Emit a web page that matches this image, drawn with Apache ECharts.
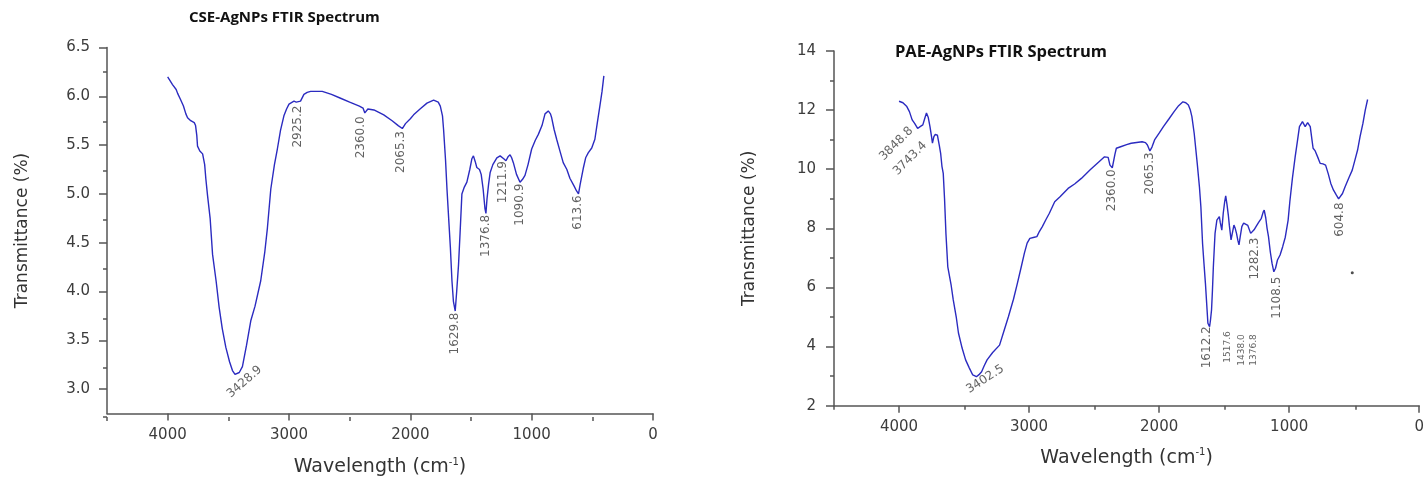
<!DOCTYPE html>
<html>
<head>
<meta charset="utf-8">
<script src="https://cdn.jsdelivr.net/npm/echarts@6/dist/echarts.min.js"></script>
<style>
html,body{margin:0;padding:0;background:#fff;}
#chart{width:1427px;height:482px;}
</style>
</head>
<body>
<div id="chart"></div>
<script>
// ---------- DATA ----------
// CSE-AgNPs spectrum (wavenumber cm-1, transmittance %)
const cseWave = [4000,3960,3930,3918,3895,3870,3850,3836,3810,3781,3770,3760,3754,3735,3712,3695,3685,3671,3650,3630,3600,3576,3550,3521,3490,3466,3445,3429,3410,3384,3350,3315,3280,3233,3200,3178,3150,3120,3096,3070,3042,3020,3000,2959,2940,2925,2905,2877,2850,2822,2726,2650,2575,2500,2420,2390,2375,2360,2350,2335,2300,2219,2150,2100,2066,2040,2000,1973,1920,1863,1808,1770,1753,1735,1726,1710,1698,1685,1670,1657,1645,1630,1618,1603,1590,1575,1555,1534,1510,1493,1480,1465,1452,1430,1416,1400,1385,1377,1368,1355,1342,1320,1287,1260,1246,1230,1212,1195,1178,1165,1151,1125,1096,1075,1055,1030,1000,970,945,915,890,863,845,835,815,794,765,740,710,685,650,630,614,600,575,555,534,505,479,460,438,420,405];
const cseTrans = [6.20,6.12,6.07,6.03,5.97,5.90,5.82,5.78,5.75,5.73,5.70,5.60,5.49,5.44,5.41,5.30,5.15,4.98,4.75,4.38,4.10,3.84,3.62,3.43,3.28,3.19,3.15,3.14,3.17,3.23,3.45,3.70,3.85,4.11,4.40,4.65,5.05,5.30,5.46,5.65,5.80,5.87,5.92,5.95,5.94,5.92,5.95,6.02,6.04,6.05,6.05,6.02,5.98,5.94,5.90,5.88,5.83,5.82,5.87,5.88,5.86,5.81,5.75,5.70,5.67,5.72,5.77,5.81,5.87,5.93,5.96,5.94,5.90,5.80,5.66,5.35,5.05,4.77,4.45,4.11,3.90,3.80,4.00,4.27,4.60,5.00,5.07,5.12,5.25,5.36,5.39,5.33,5.27,5.25,5.20,5.05,4.85,4.80,4.95,5.10,5.22,5.30,5.37,5.39,5.38,5.36,5.34,5.38,5.40,5.37,5.32,5.20,5.12,5.15,5.19,5.30,5.46,5.55,5.61,5.70,5.82,5.85,5.82,5.78,5.66,5.56,5.43,5.32,5.25,5.16,5.08,5.03,5.00,5.10,5.26,5.37,5.42,5.47,5.56,5.72,5.90,6.05,6.21];
const csePeakWave = [3428.9,2925.2,2360.0,2065.3,1629.8,1376.8,1211.9,1090.9,613.6];
const csePeakTrans = [3.14,5.92,5.82,5.67,3.80,4.80,5.34,5.12,5.00];

// PAE-AgNPs spectrum
const paeWave = [4000,3970,3940,3920,3899,3880,3857,3835,3817,3800,3789,3775,3762,3750,3743,3732,3721,3705,3699,3690,3680,3670,3660,3650,3639,3625,3600,3583,3560,3543,3515,3488,3460,3433,3405,3385,3365,3345,3323,3280,3227,3195,3159,3120,3090,3060,3036,3015,2994,2960,2940,2920,2898,2870,2844,2803,2762,2700,2650,2598,2530,2460,2420,2407,2392,2378,2360,2351,2340,2329,2296,2250,2215,2131,2105,2090,2071,2055,2035,2000,1967,1925,1885,1850,1817,1795,1775,1760,1748,1730,1707,1690,1679,1666,1655,1644,1635,1625,1612,1605,1597,1590,1583,1575,1570,1556,1545,1537,1530,1518,1507,1496,1488,1478,1468,1460,1447,1438,1425,1415,1405,1395,1386,1377,1364,1350,1337,1318,1296,1282,1270,1255,1235,1214,1200,1192,1180,1170,1159,1145,1132,1118,1105,1090,1070,1050,1030,1008,995,975,954,935,921,898,887,877,868,858,848,838,825,816,800,789,775,762,740,720,700,680,660,638,620,611,590,570,540,515,495,474,455,433,415,397];
const paeTrans = [12.30,12.25,12.12,11.95,11.67,11.55,11.38,11.45,11.50,11.75,11.90,11.75,11.44,11.10,10.88,11.10,11.18,11.15,11.10,10.80,10.54,10.10,9.86,9.00,7.80,6.70,6.10,5.58,5.00,4.46,3.95,3.55,3.28,3.04,2.98,3.05,3.15,3.35,3.55,3.80,4.05,4.50,5.01,5.60,6.14,6.70,7.16,7.50,7.66,7.70,7.72,7.90,8.06,8.30,8.51,8.90,9.07,9.35,9.50,9.69,9.98,10.26,10.42,10.48,10.40,10.14,10.05,10.09,10.50,10.71,10.76,10.83,10.88,10.93,10.90,10.82,10.62,10.75,10.99,11.22,11.44,11.70,11.95,12.15,12.28,12.25,12.17,12.00,11.78,11.20,10.20,9.40,8.73,7.49,6.80,6.14,5.50,4.79,4.67,4.90,5.24,5.90,6.70,7.40,7.83,8.28,8.30,8.40,8.20,7.94,8.51,8.90,9.10,8.80,8.45,8.10,7.61,7.62,8.11,8.00,7.83,7.60,7.44,7.70,8.06,8.18,8.23,8.10,7.83,7.84,7.95,8.06,8.20,8.34,8.55,8.62,8.35,8.00,7.72,7.20,6.82,6.53,6.65,6.93,7.10,7.38,7.70,8.28,8.90,9.70,10.42,11.00,11.44,11.61,11.55,11.44,11.50,11.58,11.55,11.44,11.00,10.71,10.62,10.59,10.35,10.20,10.18,10.14,9.85,9.52,9.30,9.13,9.00,8.96,9.18,9.41,9.72,9.97,10.30,10.65,11.10,11.55,12.00,12.36];
const paePeakWave = [3848.8,3743.4,3402.5,2360.0,2065.3,1612.2,1517.6,1438.0,1376.8,1282.3,1108.5,604.8];
const paePeakTrans = [11.38,10.88,2.98,10.05,10.62,4.67,7.94,7.62,7.44,7.84,6.55,8.96];
const paeDot = [[515, 6.5]];

// Axis ticks
const waveTicks = [0,1000,2000,3000,4000];
const waveMinorTicks = [500,1500,2500,3500,4500];
const cseTransTicks = [3.0,3.5,4.0,4.5,5.0,5.5,6.0,6.5];
const cseTransMinorTicks = [2.75,3.25,3.75,4.25,4.75,5.25,5.75,6.25];
const paeTransTicks = [2,4,6,8,10,12,14];
const paeTransMinorTicks = [3,5,7,9,11,13];

const titles = ['CSE-AgNPs FTIR Spectrum','PAE-AgNPs FTIR Spectrum'];

// ---------- STYLE / LAYOUT ----------
const FONT = 'DejaVu Sans';
const axisColor = '#555';
const textColor = '#3c3c3c';
const lineColor = '#2b2bc0';

const gridRects = [
  {left: 107, top: 47.5, width: 546, height: 369.5},
  {left: 834, top: 51, width: 586.7, height: 354.7}
];

// label placement tweaks (pixel offsets relative to the peak point)
const cseLabelStyle = {
  '3428.9': {rotate: 41, align: 'center', pos: [8, 7]},
  '2360.0': {pos: [-5, 3]},
  '2065.3': {pos: [-1, 3]},
  '1211.9': {pos: [-3, 1]}
};
const paeLabelStyle = {
  '3848.8': {rotate: 45, align: 'right', pos: [-7, 1]},
  '3743.4': {rotate: 45, align: 'right', pos: [-7, 1]},
  '3402.5': {rotate: 33, align: 'center', pos: [9, 3]},
  '1612.2': {pos: [-2, 0]},
  '1517.6': {pos: [6, 5], size: 9, anchorFrom: 1612.2},
  '1438.0': {pos: [10, 8], size: 9, anchorFrom: 1612.2},
  '1376.8': {pos: [14, 8], size: 9, anchorFrom: 1612.2},
  '1282.3': {pos: [3, 5]},
  '1108.5': {pos: [2, 6]},
  '604.8': {pos: [0, 3]}
};

function zip(a, b) { return a.map((v, i) => [v, b[i]]); }

function peakData(waves, trans, styles) {
  return waves.map((w, i) => {
    const key = w.toFixed(1);
    const st = styles[key] || {};
    let t = trans[i];
    if (st.anchorFrom != null) t = trans[waves.indexOf(st.anchorFrom)];
    const rotate = st.rotate != null ? st.rotate : 90;
    return {
      value: [w, t],
      label: {
        show: true,
        formatter: key,
        rotate: rotate,
        align: st.align || 'right',
        verticalAlign: 'middle',
        position: st.pos || [0, 2],
        fontSize: st.size || 12,
        fontFamily: FONT,
        color: '#3a3a3a'
      }
    };
  });
}

function xMain(grid, nameGap) {
  return {
    gridIndex: grid, type: 'value', min: 0, max: 4500, inverse: true, position: 'bottom',
    name: '{n|Wavelength (cm}{s|-1}{n|)}', nameLocation: 'middle', nameGap: nameGap,
    nameTextStyle: {
      rich: {
        n: {fontFamily: FONT, fontSize: 19, color: '#333'},
        s: {fontFamily: FONT, fontSize: 10, color: '#333', padding: [0, 0, 10, 0]}
      }
    },
    axisLine: {show: true, onZero: false, lineStyle: {color: axisColor, width: 1.5}},
    axisTick: {show: true, customValues: waveTicks, length: 7, lineStyle: {color: axisColor, width: 1.5}},
    axisLabel: {customValues: waveTicks, margin: 14, fontFamily: FONT, fontSize: 15, color: textColor,
                formatter: v => String(v)},
    splitLine: {show: false}
  };
}
function xMinor(grid) {
  return {
    gridIndex: grid, type: 'value', min: 0, max: 4500, inverse: true, position: 'bottom',
    axisLine: {show: false, onZero: false},
    axisTick: {show: true, customValues: waveMinorTicks, length: 4, lineStyle: {color: axisColor, width: 1.5}},
    axisLabel: {show: false},
    splitLine: {show: false}
  };
}
function yMain(grid, min, max, major, fmt, labelMargin) {
  return {
    gridIndex: grid, type: 'value', min: min, max: max, position: 'left',
    name: 'Transmittance (%)', nameLocation: 'middle', nameGap: 76,
    nameTextStyle: {fontFamily: FONT, fontSize: 17, color: '#333'},
    axisLine: {show: true, onZero: false, lineStyle: {color: axisColor, width: 1.5}},
    axisTick: {show: true, customValues: major, length: 8, lineStyle: {color: axisColor, width: 1.5}},
    axisLabel: {customValues: major, margin: labelMargin, fontFamily: FONT, fontSize: 15, color: textColor, formatter: fmt},
    splitLine: {show: false}
  };
}
function yMinor(grid, min, max, minor) {
  return {
    gridIndex: grid, type: 'value', min: min, max: max, position: 'left',
    axisLine: {show: false, onZero: false},
    axisTick: {show: true, customValues: minor, length: 4, lineStyle: {color: axisColor, width: 1.5}},
    axisLabel: {show: false},
    splitLine: {show: false}
  };
}

const option = {
  animation: false,
  backgroundColor: '#fff',
  title: [
    {text: titles[0], left: 189, top: 10, padding: 0,
     textStyle: {fontFamily: 'Open Sans', fontWeight: 'bold', fontSize: 15, color: '#111'}},
    {text: titles[1], left: 895, top: 44, padding: 0,
     textStyle: {fontFamily: 'Open Sans', fontWeight: 'bold', fontSize: 16.5, color: '#111'}}
  ],
  // grids 0,1: main axes; grids 2,3: same rectangles, carrying only the minor ticks
  grid: [gridRects[0], gridRects[1], gridRects[0], gridRects[1]].map(r => Object.assign({containLabel: false}, r)),
  xAxis: [xMain(0, 44), xMain(1, 42), xMinor(2), xMinor(3)],
  yAxis: [
    yMain(0, 2.75, 6.5, cseTransTicks, v => v.toFixed(1), 17),
    yMain(1, 2, 14, paeTransTicks, v => String(v), 18),
    yMinor(2, 2.75, 6.5, cseTransMinorTicks),
    yMinor(3, 2, 14, paeTransMinorTicks)
  ],
  series: [
    {type: 'line', xAxisIndex: 0, yAxisIndex: 0, data: zip(cseWave, cseTrans), showSymbol: false, symbol: 'none',
     lineStyle: {color: lineColor, width: 1.4}, smooth: false},
    {type: 'scatter', xAxisIndex: 0, yAxisIndex: 0, data: peakData(csePeakWave, csePeakTrans, cseLabelStyle),
     symbolSize: 1, itemStyle: {color: 'rgba(0,0,0,0)'}},
    {type: 'line', xAxisIndex: 1, yAxisIndex: 1, data: zip(paeWave, paeTrans), showSymbol: false, symbol: 'none',
     lineStyle: {color: lineColor, width: 1.4}, smooth: false},
    {type: 'scatter', xAxisIndex: 1, yAxisIndex: 1, data: peakData(paePeakWave, paePeakTrans, paeLabelStyle),
     symbolSize: 1, itemStyle: {color: 'rgba(0,0,0,0)'}},
    {type: 'scatter', xAxisIndex: 1, yAxisIndex: 1, data: paeDot, symbolSize: 3, itemStyle: {color: '#222'}}
  ]
};

const chart = echarts.init(document.getElementById('chart'), null, {renderer: 'canvas'});
chart.setOption(option);
</script>
</body>
</html>
